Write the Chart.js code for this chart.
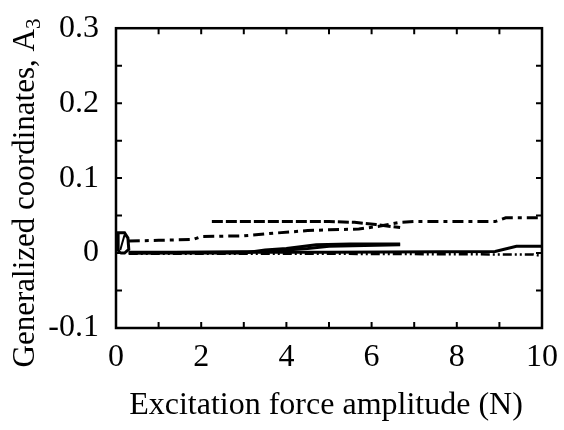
<!DOCTYPE html>
<html>
<head>
<meta charset="utf-8">
<script src="https://cdn.jsdelivr.net/npm/chart.js@4.4.1/dist/chart.umd.min.js"></script>
<style>
  html, body { margin: 0; padding: 0; background: #fff; }
  #wrap { width: 564px; height: 430px; position: relative; }
</style>
</head>
<body>
<div id="wrap"><canvas id="ampChart"></canvas></div>
<script>
// x values (N) and A3 values for each curve
const upperDashX = [2.25, 3, 4, 5, 5.6, 6.1, 6.67];
const upperDashY = [0.042, 0.042, 0.042, 0.042, 0.041, 0.038, 0.034];

const dashDotX = [0.3, 1.0, 1.8, 2.0, 3.0, 3.6, 4.5, 5.0, 5.7, 6.2, 6.67, 7, 8, 8.9, 9.15, 10];
const dashDotY = [0.016, 0.017, 0.018, 0.022, 0.023, 0.026, 0.03, 0.031, 0.032, 0.036, 0.041, 0.042, 0.042, 0.042, 0.047, 0.047];

const solidAX = [0.3, 3.0, 3.5, 4.0, 4.7, 5.5, 6.67];
const solidAY = [0.0, 0.0, 0.004, 0.006, 0.011, 0.012, 0.012];

const solidBX = [0.3, 3.5, 4.5, 5.0, 6.67];
const solidBY = [0.0, 0.002, 0.006, 0.009, 0.011];

const baseX = [0.3, 5, 8.9, 9.4, 10];
const baseY = [0.001, 0.001, 0.002, 0.009, 0.009];

const dottedX = [0.3, 5, 9.8, 10];
const dottedY = [-0.001, -0.001, -0.002, -0.004];

const loopX = [0.1, 0.05, 0.05, 0.2, 0.28, 0.3, 0.2, 0.1];
const loopY = [0.0, 0.004, 0.027, 0.027, 0.02, 0.005, 0.0, 0.0];

const diagX = [0.1, 0.2];
const diagY = [0.004, 0.024];

const xTickLabels = [0, 2, 4, 6, 8, 10];
const yTickLabels = [-0.1, 0, 0.1, 0.2, 0.3];

const toPoints = (xs, ys) => xs.map((x, i) => ({ x: x, y: ys[i] }));

const makeLine = (xs, ys, dash, width) => ({
  data: toPoints(xs, ys),
  borderColor: "#000",
  borderWidth: width,
  borderDash: dash,
  pointRadius: 0,
  fill: false,
  tension: 0,
});

const serif = "'Liberation Serif', 'Times New Roman', serif";

// draws the frame, inward ticks and axis titles
const framePlugin = {
  id: "frame",
  afterDraw(chart) {
    const ctx = chart.ctx;
    const area = chart.chartArea;
    const xs = chart.scales.x;
    const ys = chart.scales.y;
    ctx.save();
    ctx.strokeStyle = "#000";
    ctx.lineWidth = 2.5;
    ctx.strokeRect(area.left, area.top, area.right - area.left, area.bottom - area.top);

    ctx.lineWidth = 2;
    ctx.beginPath();
    for (let v = 1; v < 10; v++) {
      const px = xs.getPixelForValue(v);
      ctx.moveTo(px, area.bottom);
      ctx.lineTo(px, area.bottom - 6);
      ctx.moveTo(px, area.top);
      ctx.lineTo(px, area.top + 6);
    }
    for (let k = -1; k < 6; k++) {
      const py = ys.getPixelForValue(k * 0.05);
      ctx.moveTo(area.left, py);
      ctx.lineTo(area.left + 6, py);
      ctx.moveTo(area.right, py);
      ctx.lineTo(area.right - 6, py);
    }
    ctx.stroke();

    // x title
    ctx.fillStyle = "#000";
    ctx.font = "32px " + serif;
    ctx.textAlign = "center";
    ctx.textBaseline = "alphabetic";
    ctx.fillText("Excitation force amplitude (N)", 326, 414);

    // y title with subscript
    ctx.translate(34, 193);
    ctx.rotate(-Math.PI / 2);
    const main = "Generalized coordinates, A";
    ctx.font = "31px " + serif;
    const mw = ctx.measureText(main).width;
    ctx.font = "21px " + serif;
    const sw = ctx.measureText("3").width;
    const start = -(mw + sw) / 2;
    ctx.textAlign = "left";
    ctx.font = "31px " + serif;
    ctx.fillText(main, start, 0);
    ctx.font = "21px " + serif;
    ctx.fillText("3", start + mw, 6);
    ctx.restore();
  },
};

new Chart(document.getElementById("ampChart"), {
  type: "line",
  data: {
    datasets: [
      makeLine(upperDashX, upperDashY, [11, 3], 3),
      makeLine(dashDotX, dashDotY, [11, 5, 4, 5], 3),
      makeLine(solidAX, solidAY, [], 3),
      makeLine(solidBX, solidBY, [], 3),
      makeLine(baseX, baseY, [], 3),
      makeLine(dottedX, dottedY, [9, 3, 2, 3, 2, 3], 2.5),
      makeLine(loopX, loopY, [], 3),
      makeLine(diagX, diagY, [], 2),
    ],
  },
  options: {
    responsive: true,
    maintainAspectRatio: false,
    animation: false,
    layout: { padding: { top: 26, right: 22, left: 0, bottom: 0 } },
    plugins: {
      legend: { display: false },
      tooltip: { enabled: false },
    },
    scales: {
      x: {
        type: "linear",
        min: 0,
        max: 10,
        grid: { display: false },
        border: { display: false },
        afterBuildTicks(scale) {
          scale.ticks = xTickLabels.map((v) => ({ value: v }));
        },
        afterFit(scale) { scale.height = 102; },
        ticks: {
          autoSkip: false,
          maxRotation: 0,
          padding: 2,
          color: "#000",
          font: { family: serif, size: 32 },
          callback: (v) => String(v),
        },
      },
      y: {
        type: "linear",
        min: -0.1,
        max: 0.3,
        grid: { display: false },
        border: { display: false },
        afterBuildTicks(scale) {
          scale.ticks = yTickLabels.map((v) => ({ value: v }));
        },
        afterFit(scale) { scale.width = 116; },
        ticks: {
          autoSkip: false,
          padding: 9,
          color: "#000",
          font: { family: serif, size: 32 },
          callback: (v) => String(Number(v.toFixed(2))),
        },
      },
    },
  },
  plugins: [framePlugin],
});
</script>
</body>
</html>
